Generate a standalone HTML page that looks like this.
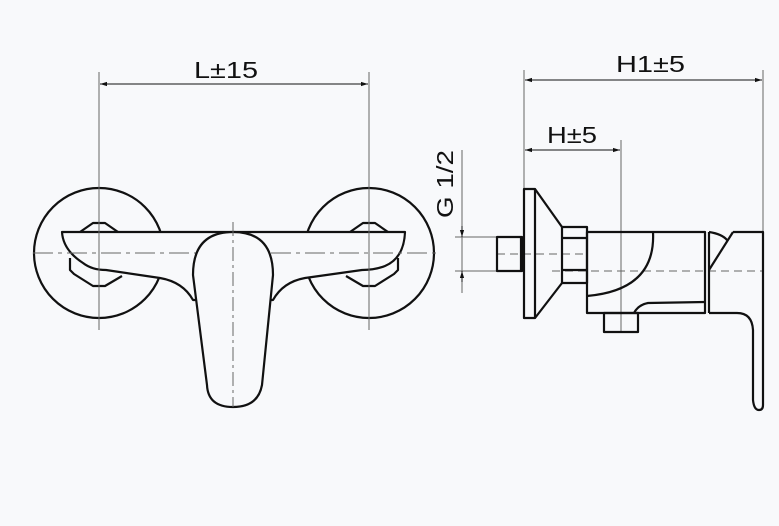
<!DOCTYPE html>
<html><head><meta charset="utf-8"><style>
html,body{margin:0;padding:0;background:#f8f9fb;}
svg{display:block;}
text{font-family:"Liberation Sans",sans-serif;font-size:23px;fill:#111;}
</style></head><body>
<svg width="779" height="526" viewBox="0 0 779 526" xmlns="http://www.w3.org/2000/svg">
<defs>
<marker id="a" viewBox="0 0 10 10" refX="10" refY="5" markerWidth="7" markerHeight="7" orient="auto-start-reverse"><path d="M0,2 L10,5 L0,8 z" fill="#111"/></marker>
</defs>
<rect width="779" height="526" fill="#f8f9fb"/>
<g stroke="#111" stroke-width="2.2" fill="none" stroke-linejoin="round">
<circle cx="99" cy="253" r="65"/>
<circle cx="369" cy="253" r="65"/>
<path d="M80,232 L93,223 L105,223 L118,232"/>
<path d="M350,232 L363,223 L375,223 L388,232"/>
<path d="M70,258 L70,270 L74,274 L93,286 L105,286 L122,276"/>
<path d="M398,258 L398,270 L394,274 L375,286 L363,286 L346,276"/>
<path d="M62,232 L405,232 Q404,258 385,266 Q375,270 362,270 L305,278 Q283,282 273,300 L233,300 L193,300 Q183,282 160,278 L106,270 Q92,270 83,263 Q63,250 62,232 Z" fill="#f8f9fb"/>
</g>
<g stroke="#666" stroke-width="1" fill="none">
<line x1="99" y1="72" x2="99" y2="330"/>
<line x1="369" y1="72" x2="369" y2="330"/>
<line x1="524" y1="70" x2="524" y2="189"/>
<line x1="763" y1="70" x2="763" y2="232"/>
<line x1="621" y1="140" x2="621" y2="332"/>
<line x1="462" y1="150" x2="462" y2="293"/>
<line x1="455" y1="237" x2="497" y2="237"/>
<line x1="455" y1="271" x2="497" y2="271"/>
<line x1="33" y1="253" x2="440" y2="253" stroke-dasharray="20,5,4,5"/>
<line x1="497" y1="254" x2="587" y2="254" stroke-dasharray="8,5"/>
<line x1="552" y1="271" x2="763" y2="271" stroke-dasharray="8,5"/>
</g>
<g stroke="#111" stroke-width="1" fill="none">
<line x1="100" y1="84" x2="368" y2="84" marker-start="url(#a)" marker-end="url(#a)"/>
<line x1="525" y1="80" x2="762" y2="80" marker-start="url(#a)" marker-end="url(#a)"/>
<line x1="525" y1="150" x2="620" y2="150" marker-start="url(#a)" marker-end="url(#a)"/>
<line x1="462" y1="226" x2="462" y2="237" marker-end="url(#a)"/>
<line x1="462" y1="282" x2="462" y2="271" marker-end="url(#a)"/>
</g>
<text x="194" y="78" textLength="64" lengthAdjust="spacingAndGlyphs">L±15</text>
<text x="616" y="72" textLength="69" lengthAdjust="spacingAndGlyphs">H1±5</text>
<text x="547" y="143" textLength="50" lengthAdjust="spacingAndGlyphs">H±5</text>
<text transform="translate(453,218) rotate(-90)" textLength="68" lengthAdjust="spacingAndGlyphs">G 1/2</text>
<g stroke="#111" stroke-width="2.2" fill="none" stroke-linejoin="round">
<path d="M233,232 Q273,232 273,275 L262,385 Q258,407 233,407 Q208,407 207,385 L193,275 Q193,232 233,232 Z" fill="#f8f9fb"/>
</g>
<line x1="233" y1="222" x2="233" y2="407" stroke="#666" stroke-width="1" stroke-dasharray="14,4,3,4"/>
<g stroke="#111" stroke-width="2.2" fill="none" stroke-linejoin="round">
<rect x="497" y="237" width="25" height="34"/>
<line x1="521" y1="237" x2="521" y2="271"/>
<rect x="524" y="189" width="11" height="129"/>
<path d="M535,189 L562,227 M535,318 L562,283"/>
<rect x="562" y="227" width="25" height="56"/>
<line x1="562" y1="238" x2="587" y2="238"/>
<line x1="562" y1="270" x2="587" y2="270"/>
<path d="M587,232 L705,232 L705,313 L587,313 Z"/>
<path d="M653,232 Q656,290 587,296"/>
<path d="M705,302 L648,303 Q638,305 634,313"/>
<rect x="604" y="313" width="34" height="19"/>
<line x1="709" y1="232" x2="709" y2="313"/>
<path d="M709,232 Q722,234 727,240"/>
<path d="M733,232 L763,232 L763,405 Q763,410 759,410 Q754,410 753,400 L753,330 Q752,313 737,313 L709,313"/>
<path d="M733,232 L709,270"/>
</g>
</svg>
</body></html>
